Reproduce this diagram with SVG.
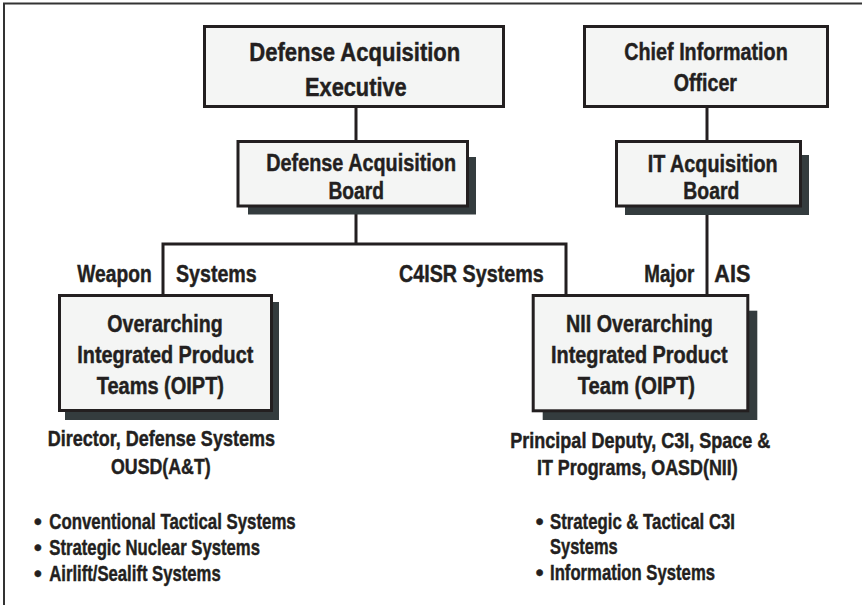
<svg xmlns="http://www.w3.org/2000/svg" width="862" height="605" viewBox="0 0 862 605">
<style>
.box{fill:#f4f5f4;stroke:#231f20;stroke-width:3}
.shadow{fill:#343c3e}
.conn{stroke:#231f20;stroke-width:3;fill:none}
.frame{stroke:#333;stroke-width:2;fill:none}
text{font-family:"Liberation Sans",Arial,sans-serif;font-weight:bold;fill:#231f20;stroke:#231f20;stroke-width:0.45px}
.f255{font-size:25.5px}
.f24{font-size:24px}
.f235{font-size:23.5px}
.f215{font-size:21.5px}
.f22{font-size:22px}
</style>
<rect x="0" y="0" width="862" height="605" fill="#ffffff"/>
<path class="frame" d="M4,605 V3.5 H862"/>
<g id="connectors">
<path class="conn" d="M356,108 V141"/>
<path class="conn" d="M356,207 V244 M163,294 V244 H566 V294"/>
<path class="conn" d="M707,108 V141"/>
<path class="conn" d="M707,207 V294"/>
</g>
<g id="dae">
<rect class="box" x="204.5" y="26.5" width="299" height="80"/>
<text class="f255" x="249.3" y="60.7" textLength="211" lengthAdjust="spacingAndGlyphs">Defense Acquisition</text>
<text class="f255" x="305" y="95.5" textLength="101.7" lengthAdjust="spacingAndGlyphs">Executive</text>
</g>
<g id="cio">
<rect class="box" x="584.5" y="26.5" width="243" height="80"/>
<text class="f24" x="624.3" y="60" textLength="163.4" lengthAdjust="spacingAndGlyphs">Chief Information</text>
<text class="f24" x="673.7" y="90.7" textLength="63.3" lengthAdjust="spacingAndGlyphs">Officer</text>
</g>
<g id="dab">
<rect class="shadow" x="248" y="157" width="228" height="57.5"/>
<rect class="box" x="238" y="141.5" width="229.5" height="64.5"/>
<text class="f235" x="266.3" y="171" textLength="189.7" lengthAdjust="spacingAndGlyphs">Defense Acquisition</text>
<text class="f235" x="328.5" y="198.7" textLength="55.5" lengthAdjust="spacingAndGlyphs">Board</text>
</g>
<g id="itab">
<rect class="shadow" x="625" y="155" width="184" height="60"/>
<rect class="box" x="616.5" y="141.5" width="184" height="64.5"/>
<text class="f235" x="647.7" y="171.5" textLength="130" lengthAdjust="spacingAndGlyphs">IT Acquisition</text>
<text class="f235" x="683.3" y="199" textLength="56" lengthAdjust="spacingAndGlyphs">Board</text>
</g>
<g id="labels">
<text class="f24" x="77.3" y="281.7" textLength="74.4" lengthAdjust="spacingAndGlyphs">Weapon</text>
<text class="f24" x="176" y="281.7" textLength="80.7" lengthAdjust="spacingAndGlyphs">Systems</text>
<text class="f24" x="399" y="281.7" textLength="144.7" lengthAdjust="spacingAndGlyphs">C4ISR Systems</text>
<text class="f24" x="644.3" y="281.7" textLength="50" lengthAdjust="spacingAndGlyphs">Major</text>
<text class="f24" x="714.3" y="281.7" textLength="36" lengthAdjust="spacingAndGlyphs">AIS</text>
</g>
<g id="oipt">
<rect class="shadow" x="65" y="302" width="214" height="118"/>
<rect class="box" x="59.5" y="295.5" width="212" height="115"/>
<text class="f235" x="107.3" y="331.7" textLength="115.3" lengthAdjust="spacingAndGlyphs">Overarching</text>
<text class="f235" x="77.3" y="363.2" textLength="176" lengthAdjust="spacingAndGlyphs">Integrated Product</text>
<text class="f235" x="96.7" y="394" textLength="127.3" lengthAdjust="spacingAndGlyphs">Teams (OIPT)</text>
</g>
<g id="nii">
<rect class="shadow" x="542.7" y="310.7" width="214.6" height="109.3"/>
<rect class="box" x="533.2" y="295.5" width="214.6" height="115.3"/>
<text class="f235" x="566" y="331.7" textLength="146.7" lengthAdjust="spacingAndGlyphs">NII Overarching</text>
<text class="f235" x="551" y="363.2" textLength="176.7" lengthAdjust="spacingAndGlyphs">Integrated Product</text>
<text class="f235" x="577.7" y="394" textLength="117.3" lengthAdjust="spacingAndGlyphs">Team (OIPT)</text>
</g>
<g id="oipt-notes">
<text class="f215" x="47.7" y="446" textLength="227.3" lengthAdjust="spacingAndGlyphs">Director, Defense Systems</text>
<text class="f215" x="111" y="474.3" textLength="99.7" lengthAdjust="spacingAndGlyphs">OUSD(A&amp;T)</text>
<text class="f22" x="34.1" y="529">•</text>
<text class="f22" x="49.3" y="529" textLength="246.4" lengthAdjust="spacingAndGlyphs">Conventional Tactical Systems</text>
<text class="f22" x="34.1" y="555">•</text>
<text class="f22" x="49.3" y="555" textLength="210.7" lengthAdjust="spacingAndGlyphs">Strategic Nuclear Systems</text>
<text class="f22" x="34.1" y="581">•</text>
<text class="f22" x="49.3" y="581" textLength="171.4" lengthAdjust="spacingAndGlyphs">Airlift/Sealift Systems</text>
</g>
<g id="nii-notes">
<text class="f215" x="510.3" y="448.3" textLength="260" lengthAdjust="spacingAndGlyphs">Principal Deputy, C3I, Space &amp;</text>
<text class="f215" x="537" y="475" textLength="200.7" lengthAdjust="spacingAndGlyphs">IT Programs, OASD(NII)</text>
<text class="f22" x="535.7" y="528.5">•</text>
<text class="f22" x="550" y="528.5" textLength="185" lengthAdjust="spacingAndGlyphs">Strategic &amp; Tactical C3I</text>
<text class="f22" x="550" y="554.3" textLength="67.7" lengthAdjust="spacingAndGlyphs">Systems</text>
<text class="f22" x="535.7" y="580.3">•</text>
<text class="f22" x="550" y="580.3" textLength="165" lengthAdjust="spacingAndGlyphs">Information Systems</text>
</g>
</svg>
